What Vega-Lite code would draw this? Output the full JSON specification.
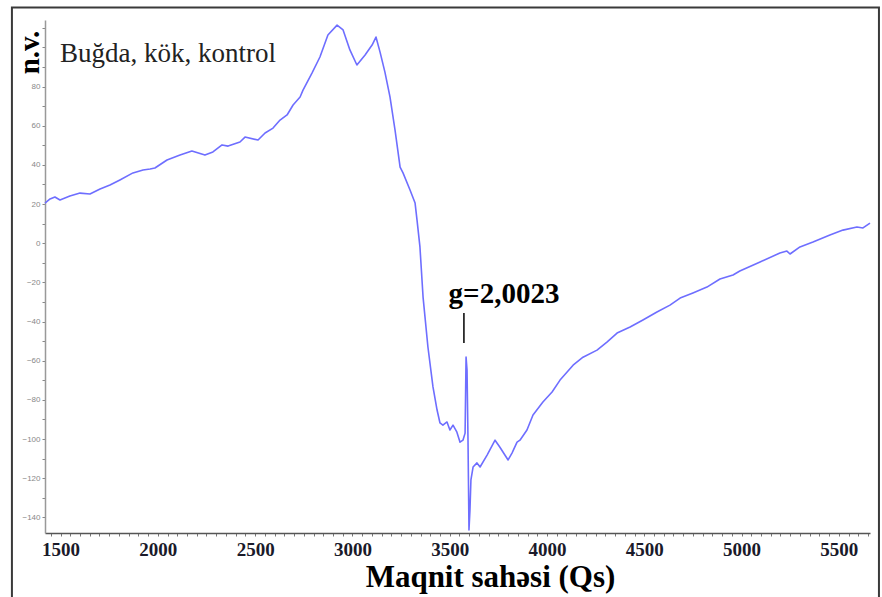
{
  "$schema": "https://vega.github.io/schema/vega-lite/v6.json",
  "width": 825,
  "height": 513,
  "autosize": {"type": "none"},
  "padding": {"left": 45, "top": 20, "right": 12, "bottom": 64},
  "background": "white",
  "config": {"view": {"stroke": null}},
  "layer": [
    {
      "data": {"values": [
        {"B": 1420, "v": 20.5}, {"B": 1446, "v": 22.6}, {"B": 1471, "v": 23.6}, {"B": 1497, "v": 22.1},
        {"B": 1548, "v": 24.1}, {"B": 1600, "v": 25.6}, {"B": 1651, "v": 25.1}, {"B": 1703, "v": 27.7},
        {"B": 1754, "v": 29.7}, {"B": 1805, "v": 32.3}, {"B": 1872, "v": 35.9}, {"B": 1924, "v": 37.4},
        {"B": 1960, "v": 37.9}, {"B": 1985, "v": 38.4}, {"B": 2047, "v": 42.5}, {"B": 2114, "v": 45.0},
        {"B": 2175, "v": 47.1}, {"B": 2242, "v": 45.0}, {"B": 2283, "v": 46.6}, {"B": 2330, "v": 50.2},
        {"B": 2361, "v": 49.6}, {"B": 2422, "v": 51.7}, {"B": 2448, "v": 54.2}, {"B": 2515, "v": 52.7},
        {"B": 2551, "v": 56.3}, {"B": 2592, "v": 58.8}, {"B": 2628, "v": 62.9}, {"B": 2664, "v": 65.5},
        {"B": 2695, "v": 70.6}, {"B": 2731, "v": 74.7}, {"B": 2746, "v": 78.2}, {"B": 2792, "v": 86.9},
        {"B": 2833, "v": 95.1}, {"B": 2874, "v": 106.3}, {"B": 2921, "v": 111.4}, {"B": 2952, "v": 108.9},
        {"B": 2987, "v": 98.7}, {"B": 3023, "v": 91.0}, {"B": 3065, "v": 96.1}, {"B": 3101, "v": 101.2},
        {"B": 3121, "v": 105.3}, {"B": 3142, "v": 97.6}, {"B": 3167, "v": 87.4}, {"B": 3193, "v": 74.7},
        {"B": 3219, "v": 57.8}, {"B": 3245, "v": 38.9}, {"B": 3260, "v": 35.9}, {"B": 3296, "v": 27.2},
        {"B": 3322, "v": 20.5}, {"B": 3332, "v": 11.8}, {"B": 3347, "v": -1.9}, {"B": 3363, "v": -27.5},
        {"B": 3388, "v": -53.0}, {"B": 3414, "v": -73.4}, {"B": 3435, "v": -85.2}, {"B": 3450, "v": -91.8},
        {"B": 3465, "v": -92.9}, {"B": 3486, "v": -91.3}, {"B": 3501, "v": -95.4}, {"B": 3517, "v": -92.9},
        {"B": 3537, "v": -96.5}, {"B": 3553, "v": -101.6}, {"B": 3568, "v": -100.6}, {"B": 3579, "v": -97.0},
        {"B": 3584, "v": -58.2}, {"B": 3589, "v": -64.8}, {"B": 3594, "v": -100.6}, {"B": 3599, "v": -146.5},
        {"B": 3604, "v": -136.3}, {"B": 3609, "v": -120.9}, {"B": 3620, "v": -114.3}, {"B": 3640, "v": -112.2},
        {"B": 3656, "v": -114.3}, {"B": 3692, "v": -108.2}, {"B": 3733, "v": -100.6}, {"B": 3758, "v": -104.2},
        {"B": 3800, "v": -110.7}, {"B": 3820, "v": -107.2}, {"B": 3846, "v": -101.6}, {"B": 3861, "v": -100.6},
        {"B": 3897, "v": -95.4}, {"B": 3928, "v": -87.7}, {"B": 3979, "v": -81.1}, {"B": 4026, "v": -76.0},
        {"B": 4067, "v": -69.9}, {"B": 4134, "v": -62.3}, {"B": 4185, "v": -58.2}, {"B": 4257, "v": -54.6},
        {"B": 4308, "v": -50.5}, {"B": 4360, "v": -45.9}, {"B": 4427, "v": -42.8}, {"B": 4493, "v": -39.2},
        {"B": 4565, "v": -35.1}, {"B": 4632, "v": -31.6}, {"B": 4684, "v": -28.0}, {"B": 4750, "v": -25.4},
        {"B": 4822, "v": -22.4}, {"B": 4889, "v": -18.3}, {"B": 4956, "v": -16.2}, {"B": 4991, "v": -14.2},
        {"B": 5095, "v": -9.6}, {"B": 5197, "v": -5.0}, {"B": 5233, "v": -4.0}, {"B": 5249, "v": -5.5},
        {"B": 5300, "v": -1.9}, {"B": 5367, "v": 0.6}, {"B": 5454, "v": 4.2}, {"B": 5521, "v": 6.7},
        {"B": 5593, "v": 8.3}, {"B": 5624, "v": 7.8}, {"B": 5660, "v": 10.3}
      ]},
      "mark": {"type": "line", "color": "#6e6eff", "strokeWidth": 1.6, "strokeJoin": "round"},
      "encoding": {
        "x": {
          "field": "B", "type": "quantitative",
          "scale": {"domain": [1420, 5660], "nice": false, "zero": false},
          "axis": {
            "title": "Maqnit sahəsi (Qs)",
            "values": [1450,1500,1550,1600,1650,1700,1750,1800,1850,1900,1950,2000,2050,2100,2150,2200,2250,2300,2350,2400,2450,2500,2550,2600,2650,2700,2750,2800,2850,2900,2950,3000,3050,3100,3150,3200,3250,3300,3350,3400,3450,3500,3550,3600,3650,3700,3750,3800,3850,3900,3950,4000,4050,4100,4150,4200,4250,4300,4350,4400,4450,4500,4550,4600,4650,4700,4750,4800,4850,4900,4950,5000,5050,5100,5150,5200,5250,5300,5350,5400,5450,5500,5550,5600,5650],
            "tickCount": 500,
            "labelExpr": "datum.value % 500 == 0 ? format(datum.value, 'd') : ''",
            "labelOverlap": false,
            "labelFlush": false,
            "labelFont": "Liberation Serif",
            "labelFontWeight": "bold",
            "labelFontSize": 19,
            "labelColor": "#1a1a2a",
            "labelPadding": 4,
            "tickSize": 3,
            "tickColor": "#777",
            "domainColor": "#555",
            "domainWidth": 1.5,
            "grid": false,
            "titleFont": "Liberation Serif",
            "titleFontWeight": "bold",
            "titleFontSize": 31,
            "titleColor": "#000",
            "titleX": 445,
            "titleY": 53,
            "titleAlign": "center",
            "titleBaseline": "alphabetic"
          }
        },
        "y": {
          "field": "v", "type": "quantitative",
          "scale": {"domain": [-148, 114], "nice": false, "zero": false},
          "axis": {
            "title": "n.v.",
            "values": [-140,-130,-120,-110,-100,-90,-80,-70,-60,-50,-40,-30,-20,-10,0,10,20,30,40,50,60,70,80,90,100,110],
            "tickCount": 500,
            "labelExpr": "datum.value % 20 == 0 && datum.value <= 80 ? format(datum.value, 'd') : ''",
            "labelOverlap": false,
            "labelFlush": false,
            "labelFont": "Liberation Sans",
            "labelFontSize": 8,
            "labelColor": "#888",
            "labelPadding": 2,
            "tickSize": 3,
            "tickColor": "#888",
            "domainColor": "#999",
            "domainWidth": 1.5,
            "grid": false,
            "titleFont": "Liberation Serif",
            "titleFontWeight": "bold",
            "titleFontSize": 29,
            "titleColor": "#000",
            "titleAngle": -90,
            "titleX": -16,
            "titleY": 32,
            "titleAlign": "center",
            "titleBaseline": "middle"
          }
        }
      }
    },
    {
      "data": {"values": [{"x1": 1250, "x2": 5706, "y1": 120.4, "y2": -182}]},
      "mark": {"type": "rect", "fill": null, "stroke": "#3a3a3a", "strokeWidth": 2, "clip": false},
      "encoding": {
        "x": {"field": "x1", "type": "quantitative"},
        "x2": {"field": "x2"},
        "y": {"field": "y1", "type": "quantitative"},
        "y2": {"field": "y2"}
      }
    },
    {
      "data": {"values": [{"B": 1497, "v": 92.3, "label": "Buğda, kök, kontrol"}]},
      "mark": {"type": "text", "align": "left", "baseline": "alphabetic", "font": "Liberation Serif", "fontSize": 27, "color": "#222"},
      "encoding": {
        "x": {"field": "B", "type": "quantitative"},
        "y": {"field": "v", "type": "quantitative"},
        "text": {"field": "label"}
      }
    },
    {
      "data": {"values": [{"B": 3779, "v": -30.6, "label": "g=2,0023"}]},
      "mark": {"type": "text", "align": "center", "baseline": "alphabetic", "font": "Liberation Serif", "fontWeight": "bold", "fontSize": 29, "color": "#000"},
      "encoding": {
        "x": {"field": "B", "type": "quantitative"},
        "y": {"field": "v", "type": "quantitative"},
        "text": {"field": "label"}
      }
    },
    {
      "data": {"values": [{"B": 3573, "v1": -35.7, "v2": -51.0}]},
      "mark": {"type": "rule", "color": "#000", "strokeWidth": 1.5},
      "encoding": {
        "x": {"field": "B", "type": "quantitative"},
        "y": {"field": "v1", "type": "quantitative"},
        "y2": {"field": "v2"}
      }
    }
  ]
}
